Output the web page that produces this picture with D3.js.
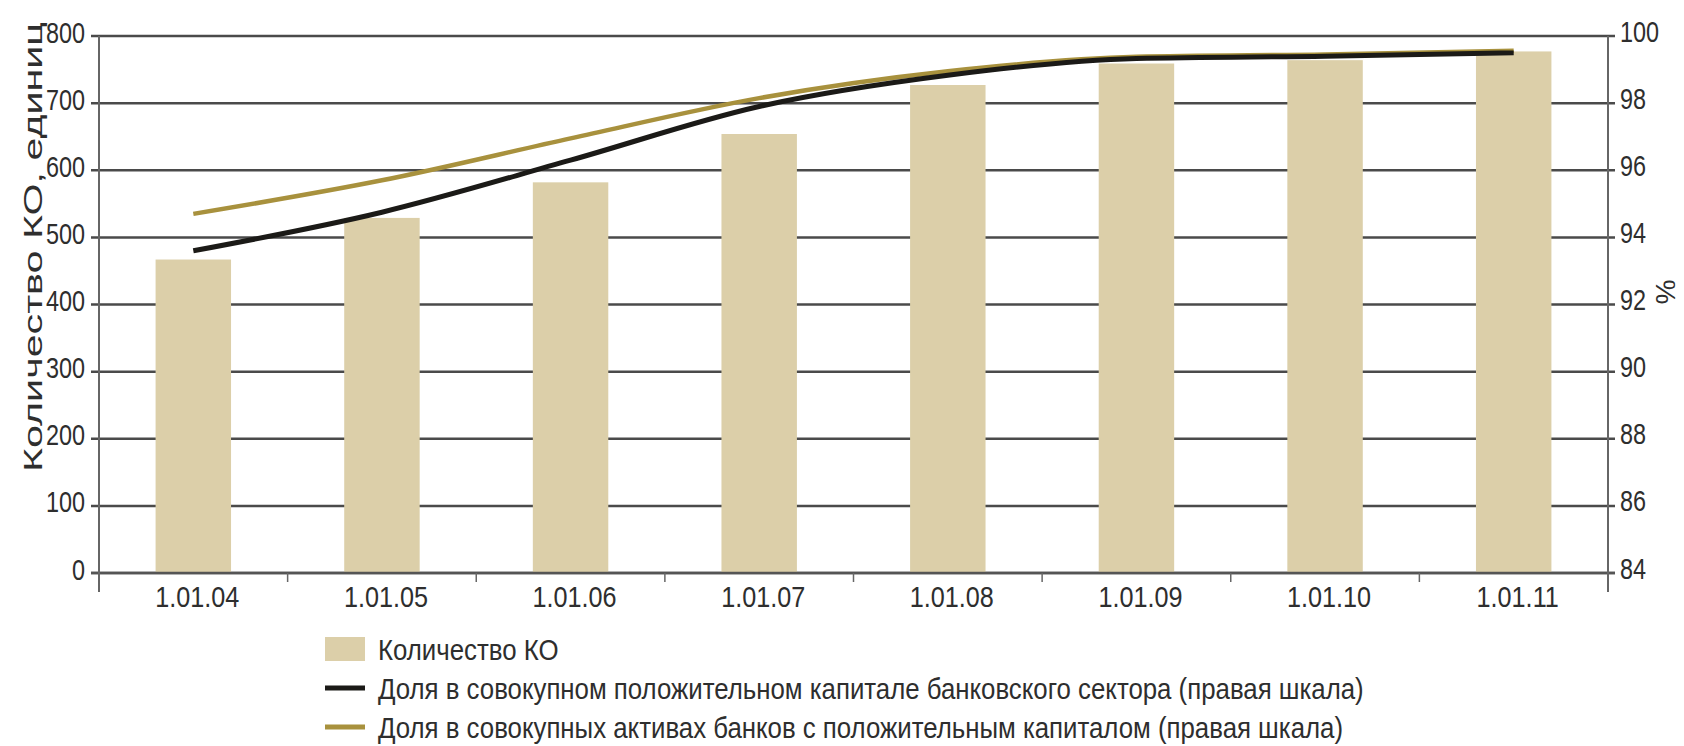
<!DOCTYPE html>
<html>
<head>
<meta charset="utf-8">
<script src="https://cdn.jsdelivr.net/npm/d3@7/dist/d3.min.js"></script>
<style>
    body { margin: 0; background: #fff; }
    text { font-family: "Liberation Sans", Arial, sans-serif; fill: #2e2e2e; }
</style>
</head>
<body>
<div id="chart"></div>
<script>
// dates on the x axis
const dates = ["1.01.04", "1.01.05", "1.01.06", "1.01.07", "1.01.08", "1.01.09", "1.01.10", "1.01.11"];
// number of credit organisations (left scale)
const bankCount = [467, 529, 582, 654, 727, 759, 764, 777];
// share in total positive capital, % (right scale)
const capitalShare = [93.6, 94.75, 96.3, 97.9, 98.83, 99.33, 99.4, 99.5];
// share in total assets of banks with positive capital, % (right scale)
const assetShare = [94.7, 95.7, 96.95, 98.15, 98.95, 99.38, 99.45, 99.56];

const leftTicks = [0, 100, 200, 300, 400, 500, 600, 700, 800];
const rightTicks = [84, 86, 88, 90, 92, 94, 96, 98, 100];

const legendLabels = [
    "Количество КО",
    "Доля в совокупном положительном капитале банковского сектора (правая шкала)",
    "Доля в совокупных активах банков с положительным капиталом (правая шкала)"
];

const W = 1684, H = 746;
const margin = { top: 36, right: 76, bottom: 173, left: 99 };
const width = W - margin.left - margin.right;
const height = H - margin.top - margin.bottom;

const colors = { bar: "#dccfa9", black: "#1b1a17", gold: "#a8913d", grid: "#4a4a4a" };

//the original uses a narrow face, squeeze the glyphs horizontally
function condense(sel, k) {
    sel.each(function () {
        const len = this.getComputedTextLength();
        d3.select(this)
            .attr("textLength", len * k)
            .attr("lengthAdjust", "spacingAndGlyphs");
    });
}

const svg = d3.select("#chart").append("svg")
    .attr("width", W)
    .attr("height", H);

const g = svg.append("g")
    .attr("transform", `translate(${margin.left},${margin.top})`);

const x = d3.scaleBand()
    .domain(dates)
    .range([0, width])
    .paddingInner(0.6)
    .paddingOuter(0.3);

const yLeft = d3.scaleLinear().domain([0, 800]).range([height, 0]);
const yRight = d3.scaleLinear().domain([84, 100]).range([height, 0]);

//grid lines (left ticks line up with right ticks)
g.append("g")
    .selectAll("line")
    .data(leftTicks)
    .join("line")
        .attr("x1", -8)
        .attr("x2", width + 7)
        .attr("y1", d => yLeft(d))
        .attr("y2", d => yLeft(d))
        .attr("stroke", colors.grid)
        .attr("stroke-width", 2.5);

//bars
g.append("g")
    .selectAll("rect")
    .data(dates.map((d, i) => ({ date: d, value: bankCount[i] })))
    .join("rect")
        .attr("x", d => x(d.date))
        .attr("y", d => yLeft(d.value))
        .attr("width", x.bandwidth())
        .attr("height", d => height - yLeft(d.value))
        .attr("fill", colors.bar);

//baseline over the bars
g.append("line")
    .attr("x1", -8)
    .attr("x2", width + 7)
    .attr("y1", height)
    .attr("y2", height)
    .attr("stroke", "#555")
    .attr("stroke-width", 2.5);

//vertical axis lines
[0, width].forEach(xx => {
    g.append("line")
        .attr("x1", xx).attr("x2", xx)
        .attr("y1", 0).attr("y2", height + 19)
        .attr("stroke", "#666")
        .attr("stroke-width", 2);
});

//x ticks between categories
g.append("g")
    .selectAll("line")
    .data(dates.slice(1))
    .join("line")
        .attr("x1", d => x(d) - x.step() * x.paddingInner() / 2)
        .attr("x2", d => x(d) - x.step() * x.paddingInner() / 2)
        .attr("y1", height)
        .attr("y2", height + 9)
        .attr("stroke", "#666")
        .attr("stroke-width", 1.5);

//x labels
g.append("g")
    .selectAll("text")
    .data(dates)
    .join("text")
        .attr("x", d => x(d) + x.bandwidth() / 2 + 4)
        .attr("y", height + 34)
        .attr("text-anchor", "middle")
        .style("font-size", "30px")
        .text(d => d)
        .call(condense, 0.84);

//left tick labels
g.append("g")
    .selectAll("text")
    .data(leftTicks)
    .join("text")
        .attr("x", -14)
        .attr("y", d => yLeft(d) - 4)
        .attr("dy", "0.35em")
        .attr("text-anchor", "end")
        .style("font-size", "30px")
        .text(d => d)
        .call(condense, 0.78);

//right tick labels
g.append("g")
    .selectAll("text")
    .data(rightTicks)
    .join("text")
        .attr("x", width + 12)
        .attr("y", d => yRight(d) - 5)
        .attr("dy", "0.35em")
        .style("font-size", "30px")
        .text(d => d)
        .call(condense, 0.78);

//axis titles
svg.append("text")
    .attr("transform", "translate(33,247) rotate(-90)")
    .attr("text-anchor", "middle")
    .attr("dy", "0.35em")
    .attr("textLength", 450)
    .attr("lengthAdjust", "spacingAndGlyphs")
    .style("font-size", "26px")
    .text("Количество КО, единиц");

svg.append("text")
    .attr("transform", "translate(1666,292) rotate(90)")
    .attr("text-anchor", "middle")
    .attr("dy", "0.35em")
    .style("font-size", "28px")
    .text("%");

//lines
const cx = d => x(d) + x.bandwidth() / 2;

const shareLine = d3.line()
    .x((d, i) => cx(dates[i]))
    .y(d => yRight(d))
    .curve(d3.curveMonotoneX);

g.append("path")
    .datum(assetShare)
    .attr("fill", "none")
    .attr("stroke", colors.gold)
    .attr("stroke-width", 4.5)
    .attr("d", shareLine);

g.append("path")
    .datum(capitalShare)
    .attr("fill", "none")
    .attr("stroke", colors.black)
    .attr("stroke-width", 5)
    .attr("d", shareLine);

//legend
const legend = svg.append("g").attr("transform", "translate(325,649)");
const rowGap = 39;

legend.append("rect")
    .attr("x", 0).attr("y", -12)
    .attr("width", 40).attr("height", 24)
    .attr("fill", colors.bar);

legend.append("line")
    .attr("x1", 0).attr("x2", 40)
    .attr("y1", rowGap).attr("y2", rowGap)
    .attr("stroke", colors.black)
    .attr("stroke-width", 5);

legend.append("line")
    .attr("x1", 0).attr("x2", 40)
    .attr("y1", rowGap * 2).attr("y2", rowGap * 2)
    .attr("stroke", colors.gold)
    .attr("stroke-width", 5);

legend.selectAll("text.leg")
    .data(legendLabels)
    .join("text")
        .attr("class", "leg")
        .attr("x", 53)
        .attr("y", (d, i) => i * rowGap)
        .attr("dy", "0.35em")
        .style("font-size", "30px")
        .text(d => d)
        .call(condense, 0.86);
</script>
</body>
</html>
